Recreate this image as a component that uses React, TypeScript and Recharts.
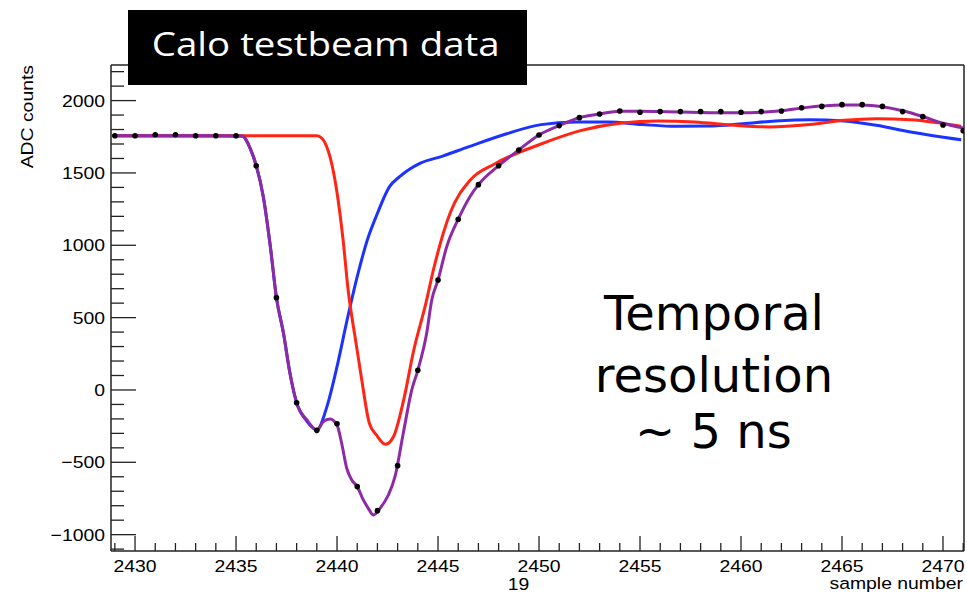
import { ComposedChart, Line, Scatter, XAxis, YAxis } from 'recharts';

// measured samples (black markers)
const sampleNumbers = [
    2429, 2430, 2431, 2432, 2433, 2434, 2435, 2436, 2437, 2438, 2439, 2440, 2441, 2442, 2443,
    2444, 2445, 2446, 2447, 2448, 2449, 2450, 2451, 2452, 2453, 2454, 2455, 2456, 2457, 2458,
    2459, 2460, 2461, 2462, 2463, 2464, 2465, 2466, 2467, 2468, 2469, 2470, 2471,
];
const adcCounts = [
    1757, 1757, 1764, 1764, 1757, 1757, 1757, 1550, 638, -88, -279, -233, -668, -834, -523,
    136, 760, 1180, 1419, 1550, 1659, 1762, 1827, 1882, 1907, 1928, 1919, 1924, 1924, 1924,
    1924, 1919, 1924, 1928, 1951, 1960, 1972, 1972, 1960, 1924, 1889, 1831, 1792,
];

// red template (late)
const redX = [
    2428.9, 2436, 2439, 2439.25, 2439.49, 2439.65, 2439.98, 2440.3, 2440.55, 2440.9, 2441.2,
    2441.6, 2441.95, 2442.4, 2442.8, 2443.3, 2443.8, 2444.4, 2444.77, 2445.6, 2446.6, 2447.8,
    2450.1, 2452.1, 2454.1, 2455.9, 2457.7, 2459.7, 2461.4, 2463.4, 2465.1, 2466.7, 2468.4,
    2470.9,
];
const redV = [
    1757, 1757, 1757, 1740, 1681, 1612, 1382, 1037, 691, 360, 92,
    -230, -311, -376, -322, -69, 276, 600, 829, 1223, 1451, 1562,
    1700, 1794, 1845, 1859, 1852, 1829, 1818, 1835, 1864, 1875, 1868,
    1822,
];

// blue template (early)
const blueX = [
    2428.9, 2435.3, 2435.7, 2436, 2436.35, 2436.7, 2437, 2437.35, 2437.67, 2438, 2438.5, 2439,
    2439.5, 2440, 2440.5, 2441, 2441.5, 2442, 2442.6, 2443.1, 2444.1, 2445.2, 2446.5, 2448.4,
    2450.1, 2451.8, 2453.4, 2455.1, 2456.8, 2458.4, 2460.1, 2461.7, 2463.4, 2465.1, 2466.7,
    2468.4, 2470.9,
];
const blueV = [
    1757, 1755, 1670, 1550, 1336, 990, 638, 392, 115, -88, -215, -276,
    -115, 161, 484, 783, 1037, 1221, 1405, 1474, 1566, 1615, 1680, 1771,
    1834, 1852, 1852, 1835, 1822, 1824, 1840, 1859, 1868, 1859, 1829,
    1783, 1729,
];

// purple fit (sum of the two)
const fitX = [
    2428.9, 2430, 2432, 2434, 2435.3, 2435.7, 2436, 2436.35, 2436.7, 2437, 2437.35, 2437.67,
    2438, 2438.5, 2439, 2439.32, 2439.65, 2440, 2440.23, 2440.48, 2440.73, 2441, 2441.3,
    2441.55, 2441.8, 2442.13, 2442.54, 2442.87, 2443.28, 2443.7, 2444, 2444.44, 2444.69, 2445,
    2445.43, 2446, 2446.58, 2447, 2448, 2449, 2450, 2451, 2452, 2453, 2454, 2455, 2456, 2457,
    2458, 2459, 2460, 2461, 2462, 2463, 2464, 2465, 2466, 2467, 2468, 2469, 2470, 2471,
];
const fitV = [
    1757, 1757, 1757, 1757, 1755, 1670, 1550, 1336, 990, 638, 392, 115,
    -88, -205, -276, -219, -200, -242, -369, -541, -622, -668, -760,
    -818, -864, -818, -726, -599, -299, 0, 136, 394, 622, 760,
    990, 1180, 1336, 1419, 1550, 1659, 1762, 1827, 1882, 1907, 1926, 1926, 1924, 1922,
    1918, 1916, 1916, 1920, 1930, 1948, 1962, 1970, 1970, 1958, 1930, 1890, 1843, 1810,
];

const xTicks = [
    2429, 2430, 2431, 2432, 2433, 2434, 2435, 2436, 2437, 2438, 2439, 2440, 2441, 2442, 2443,
    2444, 2445, 2446, 2447, 2448, 2449, 2450, 2451, 2452, 2453, 2454, 2455, 2456, 2457, 2458,
    2459, 2460, 2461, 2462, 2463, 2464, 2465, 2466, 2467, 2468, 2469, 2470, 2471,
];
const yTicks = [
    -1100, -1000, -900, -800, -700, -600, -500, -400, -300, -200, -100, 0, 100, 200, 300, 400,
    500, 600, 700, 800, 900, 1000, 1100, 1200, 1300, 1400, 1500, 1600, 1700, 1800, 1900, 2000,
    2100, 2200,
];

const zip = (xs: number[], vs: number[]) => xs.map((x, i) => ({ x, v: vs[i] }));
const points = zip(sampleNumbers, adcCounts);
const red = zip(redX, redV);
const blue = zip(blueX, blueV);
const fit = zip(fitX, fitV);

const ROOT_FONT = '"Liberation Sans", Arial, sans-serif';
const AXIS = '#222';
const fmt = (v: number) => (v < 0 ? '\u2212' + Math.abs(v) : String(v));

function YTick(props: any) {
    const { x, y, payload } = props;
    const major = payload.value % 500 === 0;
    return (
        <g>
            <line x1={x} x2={x + (major ? 25 : 13)} y1={y} y2={y} stroke={AXIS} strokeWidth={1.3} />
            {major && (
                <text
                    transform={`translate(${x - 6},${y + 6}) scale(1.14,1)`}
                    textAnchor="end"
                    fontFamily={ROOT_FONT}
                    fontSize={17}
                    fill="#000"
                >
                    {fmt(payload.value)}
                </text>
            )}
        </g>
    );
}

function XTick(props: any) {
    const { x, y, payload } = props;
    const major = payload.value % 5 === 0;
    return (
        <g>
            <line x1={x} x2={x} y1={y} y2={y - (major ? 15 : 8)} stroke={AXIS} strokeWidth={1.3} />
            {major && (
                <text
                    transform={`translate(${x},${y + 21}) scale(1.14,1)`}
                    textAnchor="middle"
                    fontFamily={ROOT_FONT}
                    fontSize={17}
                    fill="#000"
                >
                    {payload.value}
                </text>
            )}
        </g>
    );
}

const Dot = (props: any) => <circle cx={props.cx} cy={props.cy} r={2.8} fill="#000" />;

export default function App() {
    return (
        <div style={{ position: 'absolute', left: 0, top: 0, width: 967, height: 593, background: '#fff' }}>
            <ComposedChart width={967} height={593} margin={{ top: 64, right: 2, bottom: 41, left: 110 }}>
                <XAxis
                    dataKey="x"
                    type="number"
                    domain={[2428.81, 2471.04]}
                    allowDataOverflow
                    ticks={xTicks}
                    interval={0}
                    height={1}
                    tickSize={0}
                    tickMargin={0}
                    tickLine={false}
                    tick={<XTick />}
                    axisLine={{ stroke: AXIS, strokeWidth: 1.5 }}
                />
                <XAxis xAxisId="top" orientation="top" type="number" domain={[0, 1]} height={1} tick={false} tickLine={false} axisLine={{ stroke: AXIS, strokeWidth: 1.5 }} />
                <YAxis
                    type="number"
                    domain={[-1113, 2246]}
                    allowDataOverflow
                    ticks={yTicks}
                    interval={0}
                    width={1}
                    tickSize={0}
                    tickMargin={0}
                    tickLine={false}
                    tick={<YTick />}
                    axisLine={{ stroke: AXIS, strokeWidth: 1.5 }}
                />
                <YAxis yAxisId="right" orientation="right" type="number" domain={[0, 1]} width={1} tick={false} tickLine={false} axisLine={{ stroke: AXIS, strokeWidth: 1.5 }} />
                <Line data={blue} dataKey="v" type="monotone" stroke="#1c33ff" strokeWidth={3} dot={false} isAnimationActive={false} />
                <Line data={red} dataKey="v" type="monotone" stroke="#ff2414" strokeWidth={3} dot={false} isAnimationActive={false} />
                <Line data={fit} dataKey="v" type="monotone" stroke="#8e2aa6" strokeWidth={3} dot={false} isAnimationActive={false} />
                <Scatter data={points} dataKey="v" shape={<Dot />} isAnimationActive={false} />
            </ComposedChart>
            <svg width={967} height={593} style={{ position: 'absolute', left: 0, top: 0, pointerEvents: 'none' }}>
                <text transform="translate(33,65) rotate(-90) scale(1.14,1)" textAnchor="end" fontFamily={ROOT_FONT} fontSize={17}>
                    ADC counts
                </text>
                <text transform="translate(963,589) scale(1.14,1)" textAnchor="end" fontFamily={ROOT_FONT} fontSize={17}>
                    sample number
                </text>
                <text transform="translate(518.5,589.5) scale(1.14,1)" textAnchor="middle" fontFamily={ROOT_FONT} fontSize={17}>
                    19
                </text>
                <rect x={128} y={10} width={399} height={75} fill="#000" />
                <text x={151.7} y={55.5} fill="#fff" fontFamily='"Open Sans", sans-serif' fontSize={32} textLength={348} lengthAdjust="spacingAndGlyphs">
                    Calo testbeam data
                </text>
                <g fontFamily='"DejaVu Sans", sans-serif' fontSize={48} textAnchor="middle" fill="#000">
                    <text x={714} y={330}>Temporal</text>
                    <text x={714} y={391.7}>resolution</text>
                    <text x={713.4} y={448.3}>~ 5 ns</text>
                </g>
            </svg>
        </div>
    );
}
